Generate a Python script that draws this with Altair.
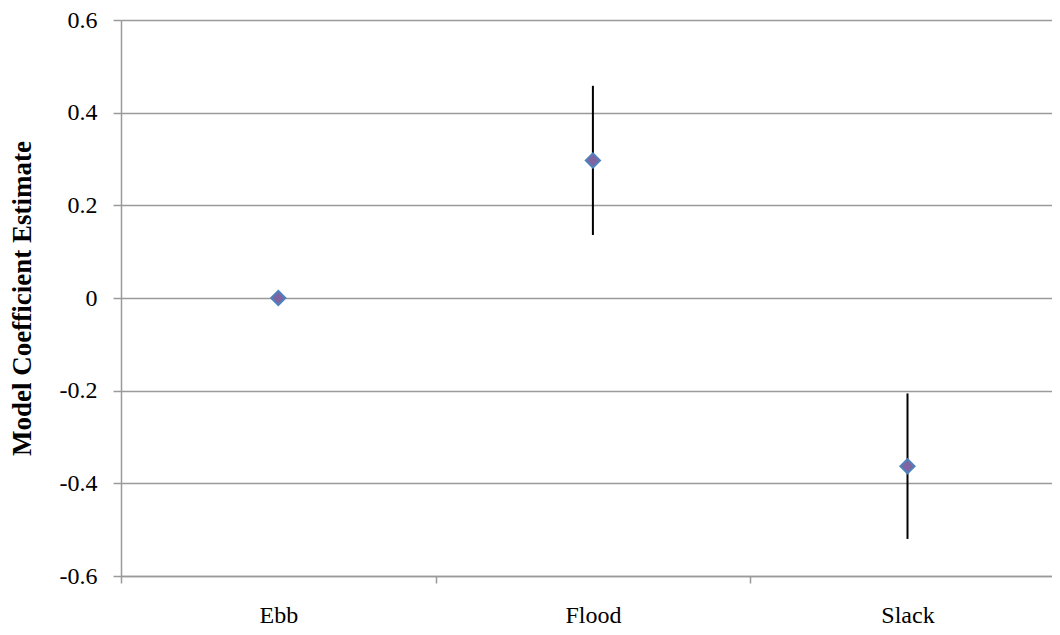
import altair as alt
import pandas as pd

categories = ["Ebb", "Flood", "Slack"]
estimates = [0.0, 0.297, -0.363]
lower = [0.0, 0.136, -0.520]
upper = [0.0, 0.458, -0.206]
y_ticks = [-0.6, -0.4, -0.2, 0, 0.2, 0.4, 0.6]

positions = [i + 0.5 for i in range(len(categories))]
df = pd.DataFrame({"cat": categories, "pos": positions, "est": estimates, "lo": lower, "hi": upper})

FONT = "Liberation Serif"
GRID = "#9a9a9a"
WIDTH = 931
UNIT = 314.6  # pixels per category band

x_scale = alt.Scale(domain=[0, WIDTH / UNIT], nice=False, zero=False)
cat_expr = "datum.value < 1 ? 'Ebb' : datum.value < 2 ? 'Flood' : 'Slack'"

y_scale = alt.Scale(domain=[-0.6, 0.6], nice=False, zero=False)
y_axis = alt.Axis(
    title="Model Coefficient Estimate", titleFont=FONT, titleFontSize=27, titleFontWeight="bold",
    titleColor="black", titleX=-99, titleY=278, titleAngle=270, titleBaseline="middle",
    titleAlign="center",
    values=y_ticks,
    labelExpr="datum.value < 0 ? '-' + format(-datum.value, '~g') : format(datum.value, '~g')",
    labelFont=FONT, labelFontSize=24, labelColor="black",
    labelPadding=16, tickSize=8, tickColor=GRID, tickWidth=1.5, domainColor=GRID, domainWidth=1.5,
    grid=True, gridColor=GRID, gridWidth=1.5,
)

# axis with tick marks at band boundaries (no labels)
tick_axis = alt.Axis(
    title=None, values=[0, 1, 2], labels=False, grid=False, orient="bottom",
    domainColor=GRID, domainWidth=1.5, tickColor=GRID, tickWidth=1.5, tickSize=7,
)
# axis with category labels (no ticks)
label_axis = alt.Axis(
    title=None, values=positions, labelExpr=cat_expr, labelAngle=0, ticks=False, domain=False,
    grid=False, orient="bottom", labelFont=FONT, labelFontSize=24, labelColor="black",
    labelBaseline="alphabetic", labelPadding=46,
)

bars = alt.Chart(df).mark_rule(color="black", strokeWidth=2).encode(
    x=alt.X("pos:Q", scale=x_scale, axis=tick_axis),
    y=alt.Y("lo:Q", scale=y_scale, axis=y_axis),
    y2="hi:Q",
)
points = alt.Chart(df).mark_point(
    shape="diamond", filled=True, fill="#8064A2", stroke="#4F81BD", strokeWidth=2,
    size=200, opacity=1,
).encode(
    x=alt.X("pos:Q", scale=x_scale, axis=label_axis),
    y=alt.Y("est:Q", scale=y_scale),
)

chart = (bars + points).resolve_axis(x="independent").properties(
    width=WIDTH, height=556,
    autosize=alt.AutoSizeParams(type="none"),
    padding={"left": 113, "top": 12, "right": 0, "bottom": 51},
).configure_view(stroke=None).configure(background="white")

chart.save("out.html", embed_options={"renderer": "svg", "actions": False})
